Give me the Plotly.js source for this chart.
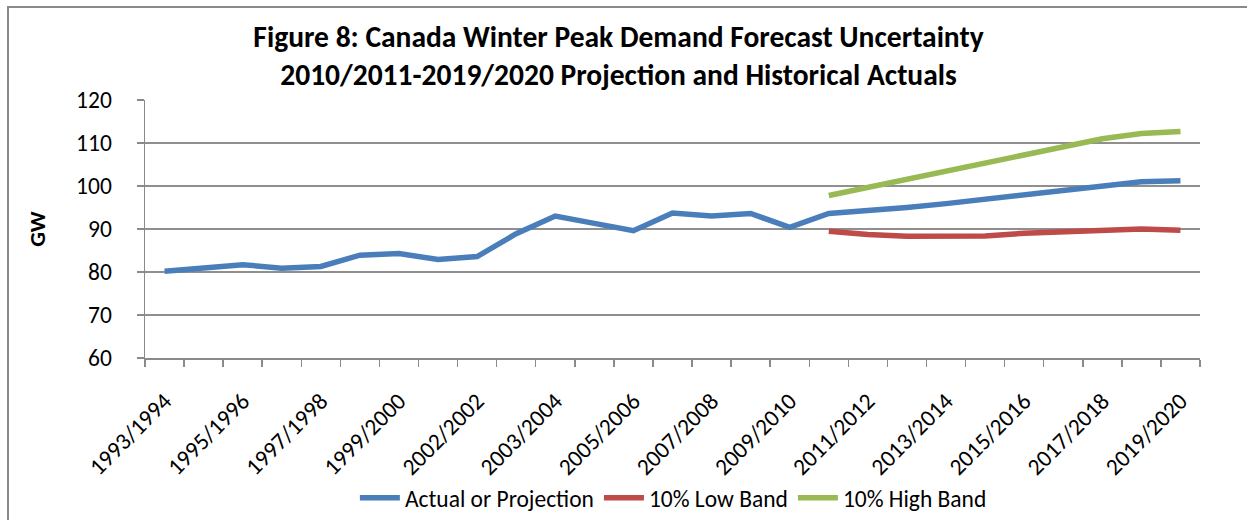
<!DOCTYPE html>
<html>
<head>
<meta charset="utf-8">
<script src="https://cdn.plot.ly/plotly-3.0.1.min.js"></script>
<style>
  html, body { margin: 0; padding: 0; background: #fff; }
  #wrap { position: relative; width: 1247px; height: 520px; overflow: hidden; }
  #chart { width: 1247px; height: 520px; }
  #frame { position: absolute; left: 7px; top: 6px; width: 1260px; height: 530px;
           border-left: 2px solid #8a8a8a; border-top: 2px solid #8a8a8a; pointer-events: none; }
</style>
</head>
<body>
<div id="wrap"><div id="chart"></div><div id="frame"></div></div>
<script>
const categories = [
  "1993/1994","1994/1995","1995/1996","1996/1997","1997/1998","1998/1999","1999/2000",
  "2000/2001","2002/2002","2002/2003","2003/2004","2004/2005","2005/2006","2006/2007",
  "2007/2008","2008/2009","2009/2010","2010/2011","2011/2012","2012/2013","2013/2014",
  "2014/2015","2015/2016","2016/2017","2017/2018","2018/2019","2019/2020"
];
const actualOrProjection = [
  80.2, 81.1, 81.7, 80.9, 81.3, 83.9, 84.3, 82.9, 83.6, 88.9, 93.0, 91.3, 89.6, 93.7,
  93.0, 93.6, 90.4, 93.6, 94.2, 95.0, 95.9, 96.9, 98.2, 99.2, 100.0, 101.0, 101.2
];
const lowBand = [
  null, null, null, null, null, null, null, null, null, null, null, null, null, null,
  null, null, null, 89.5, 88.7, 88.3, 88.3, 88.4, 89.0, 89.3, 89.5, 90.0, 89.7
];
const highBand = [
  null, null, null, null, null, null, null, null, null, null, null, null, null, null,
  null, null, null, 97.8, 99.7, 101.7, 103.6, 105.3, 107.5, 109.4, 111.0, 112.2, 112.7
];
const tickLabelIdx = [0,2,4,6,8,10,12,14,16,18,20,22,24,26];

const xs = categories.map((_, i) => i);
const FONT = "Carlito, Calibri, Lato, 'Liberation Sans', sans-serif";

const traces = [
  { x: xs, y: actualOrProjection, name: "Actual or Projection", mode: "lines",
    line: { color: "#4a7ebb", width: 5.5 }, text: categories, hoverinfo: "text+y" },
  { x: xs, y: lowBand, name: "10% Low Band", mode: "lines", connectgaps: false,
    line: { color: "#be4b48", width: 5.5 }, text: categories, hoverinfo: "text+y" },
  { x: xs, y: highBand, name: "10% High Band", mode: "lines", connectgaps: false,
    line: { color: "#98b954", width: 5.5 }, text: categories, hoverinfo: "text+y" }
];

const layout = {
  width: 1247, height: 520,
  margin: { l: 145, r: 47, t: 100, b: 162 },
  paper_bgcolor: "#fff", plot_bgcolor: "#fff",
  font: { family: FONT, size: 23.5, color: "#000" },
  title: {
    text: "<b>Figure 8: Canada Winter Peak Demand Forecast Uncertainty<br>2010/2011-2019/2020 Projection and Historical Actuals</b>",
    font: { family: FONT, size: 29.5, color: "#000" },
    x: 0.496, xanchor: "center", y: 0.91, yanchor: "top"
  },
  xaxis: {
    range: [-0.5, categories.length - 0.5],
    tickmode: "array",
    tickvals: tickLabelIdx,
    ticktext: tickLabelIdx.map(i => categories[i]),
    tickangle: -45,
    ticks: "",
    ticklabelshift: 0,
    ticklabelstandoff: 18,
    showgrid: false, zeroline: false,
    showline: true, linecolor: "#8a8a8a", linewidth: 2,
    tickfont: { family: FONT, size: 23.5, color: "#000" },
    minor: { tick0: -0.5, dtick: 1, ticks: "outside", ticklen: 7, tickcolor: "#8a8a8a", tickwidth: 1.5, showgrid: false },
    automargin: false,
    fixedrange: true
  },
  yaxis: {
    range: [60, 120], dtick: 10,
    ticks: "outside", ticklen: 7, tickcolor: "#8a8a8a", tickwidth: 1.5,
    ticklabelstandoff: 20,
    showline: true, linecolor: "#8a8a8a", linewidth: 1.5,
    showgrid: true, gridcolor: "#8f8f8f", gridwidth: 1.5,
    zeroline: false,
    tickfont: { family: FONT, size: 23.5, color: "#000" },
    title: { text: "<b>GW</b>", font: { family: FONT, size: 23, color: "#000" }, standoff: 24 },
    automargin: false,
    fixedrange: true
  },
  legend: {
    orientation: "h", xref: "container", yref: "container",
    x: 0.54, xanchor: "center", y: 0.0, yanchor: "bottom",
    font: { family: FONT, size: 23.5, color: "#000" },
    itemwidth: 40, tracegroupgap: 0
  },
  showlegend: true
};

Plotly.newPlot("chart", traces, layout, { displayModeBar: false, staticPlot: true });
</script>
</body>
</html>
